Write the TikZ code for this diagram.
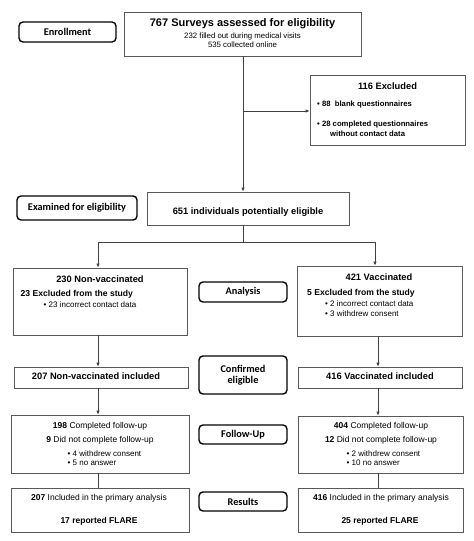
\documentclass[tikz,border=0pt]{standalone}
\usepackage{fontspec}
\setmainfont{Liberation Sans}
\newfontfamily\labfont{Carlito}
\usetikzlibrary{arrows.meta}
\tikzset{
  cbox/.style={draw=black!65, line width=0.8pt, fill=white, inner sep=0pt, anchor=center},
  lbox/.style={draw=black, line width=1.4pt, rounded corners=4pt, fill=white, inner sep=0pt, anchor=center, font=\labfont\bfseries\fontsize{10.3}{12}\selectfont, align=center},
  conn/.style={draw=black!75, line width=0.8pt},
  arr/.style={conn, -{Latex[length=4pt,width=3.5pt]}},
  ttl/.style={inner sep=0pt, font=\bfseries\fontsize{9.3}{11}\selectfont},
  sub/.style={inner sep=0pt, font=\fontsize{8}{10}\selectfont},
  bsub/.style={inner sep=0pt, font=\bfseries\fontsize{7.7}{10}\selectfont},
  mid/.style={inner sep=0pt, font=\fontsize{8.5}{10}\selectfont},
}
\begin{document}
\begin{tikzpicture}[x=1pt,y=-1pt]
\useasboundingbox[fill=white] (0,0) rectangle (474,541);
% label boxes
\node[lbox, minimum width=97pt, minimum height=20pt] (enr) at (67.5,32) {Enrollment};
\node[lbox, minimum width=120pt, minimum height=24pt] (exam) at (77,208) {Examined for eligibility};
\node[lbox, minimum width=88pt, minimum height=20pt] (ana) at (243,292) {Analysis};
\node[lbox, minimum width=88pt, minimum height=38pt] (conf) at (243,375) {Confirmed\\[-1pt]eligible};
\node[lbox, minimum width=88pt, minimum height=19pt] (fulab) at (243,434.5) {Follow-Up};
\node[lbox, minimum width=88pt, minimum height=19pt] (reslab) at (243,501.5) {Results};
% content boxes
\node[cbox, minimum width=237pt, minimum height=44pt] (top) at (242.5,34) {};
\node[cbox, minimum width=155pt, minimum height=70pt] (excl) at (387.5,110) {};
\node[cbox, minimum width=202pt, minimum height=33pt] (elig) at (248,208.5) {};
\node[cbox, minimum width=174pt, minimum height=67pt] (nonvac) at (100,301.5) {};
\node[cbox, minimum width=165pt, minimum height=70pt] (vac) at (379.5,301) {};
\node[cbox, minimum width=174pt, minimum height=21pt] (nvinc) at (101,377.5) {};
\node[cbox, minimum width=164pt, minimum height=21pt] (vinc) at (380,377.5) {};
\node[cbox, minimum width=178pt, minimum height=58pt] (fuL) at (100,444) {};
\node[cbox, minimum width=165pt, minimum height=57pt] (fuR) at (380.5,444.5) {};
\node[cbox, minimum width=178pt, minimum height=44pt] (resL) at (100,510) {};
\node[cbox, minimum width=165pt, minimum height=44pt] (resR) at (380.5,510) {};
% texts: top
\node[inner sep=0pt, font=\bfseries\fontsize{11}{13}\selectfont] (t1) at (242.5,24) {767 Surveys assessed for eligibility};
\node[sub, font=\fontsize{7.8}{10}\selectfont] (t2) at (242.5,36) {232 filled out during medical visits};
\node[sub, font=\fontsize{7.8}{10}\selectfont] (t3) at (242.5,45) {535 collected online};
% excluded
\node[ttl] (e1) at (387.5,86) {116 Excluded};
\node[bsub, anchor=west] (e2) at (317,105) {\textbullet\ 88\ \ blank questionnaires};
\node[bsub, anchor=west] (e3) at (317,125) {\textbullet\ 28 completed questionnaires};
\node[bsub, anchor=west] (e4) at (330,134) {without contact data};
% 651
\node[ttl] (g1) at (248,212) {651 individuals potentially eligible};
% non-vaccinated
\node[ttl] (n1) at (100,279) {230 Non-vaccinated};
\node[ttl, font=\bfseries\fontsize{8.6}{10}\selectfont, anchor=west] (n2) at (20.5,294) {23 Excluded from the study};
\node[sub, anchor=west] (n3) at (43.5,305) {\textbullet\ 23 incorrect contact data};
% vaccinated
\node[ttl] (v1) at (379,277) {421 Vaccinated};
\node[ttl, font=\bfseries\fontsize{8.6}{10}\selectfont, anchor=west] (v2) at (307,293) {5 Excluded from the study};
\node[sub, anchor=west] (v3) at (325,303.5) {\textbullet\ 2 incorrect contact data};
\node[sub, anchor=west] (v4) at (325,314) {\textbullet\ 3 withdrew consent};
% included
\node[ttl] (i1) at (96,376) {207 Non-vaccinated included};
\node[ttl] (i2) at (380,376) {416 Vaccinated included};
% follow-up
\node[mid] (f1) at (100,426) {\textbf{198} Completed follow-up};
\node[mid] (f2) at (100,440) {\textbf{9} Did not complete follow-up};
\node[sub, anchor=west] (f3) at (67.5,454) {\textbullet\ 4 withdrew consent};
\node[sub, anchor=west] (f4) at (67.5,463) {\textbullet\ 5 no answer};
\node[mid] (g2) at (381,426) {\textbf{404} Completed follow-up};
\node[mid] (g3) at (381,440) {\textbf{12} Did not complete follow-up};
\node[sub, anchor=west] (g4) at (346.5,454) {\textbullet\ 2 withdrew consent};
\node[sub, anchor=west] (g5) at (346.5,463) {\textbullet\ 10 no answer};
% results
\node[mid] (r1) at (99,498) {\textbf{207} Included in the primary analysis};
\node[ttl, font=\bfseries\fontsize{8.5}{10}\selectfont] (r2) at (99,521) {17 reported FLARE};
\node[mid] (r3) at (381,498) {\textbf{416} Included in the primary analysis};
\node[ttl, font=\bfseries\fontsize{8.5}{10}\selectfont] (r4) at (380,521) {25 reported FLARE};
% connectors
\coordinate (br) at (243,111);
\coordinate (sp) at (243,242);
\coordinate (cl) at (98,242);
\coordinate (cr) at (375,242);
\draw[arr] (top.south -| br) -- (br |- elig.north);
\draw[arr] (br) -- (excl.west |- br);
\draw[conn] (br |- elig.south) -- (sp);
\draw[conn] (cl) -- (cr);
\draw[arr] (cl) -- (cl |- nonvac.north);
\draw[arr] (cr) -- (cr |- vac.north);
\coordinate (xl) at (98,0);
\coordinate (xr) at (378,0);
\draw[arr] (xl |- nonvac.south) -- (xl |- nvinc.north);
\draw[arr] (xr |- vac.south) -- (xr |- vinc.north);
\draw[arr] (xl |- nvinc.south) -- (xl |- fuL.north);
\draw[arr] (xr |- vinc.south) -- (xr |- fuR.north);
\draw[conn] (xl |- fuL.south) -- (xl |- resL.north);
\draw[conn] (xr |- fuR.south) -- (xr |- resR.north);
\end{tikzpicture}
\end{document}
